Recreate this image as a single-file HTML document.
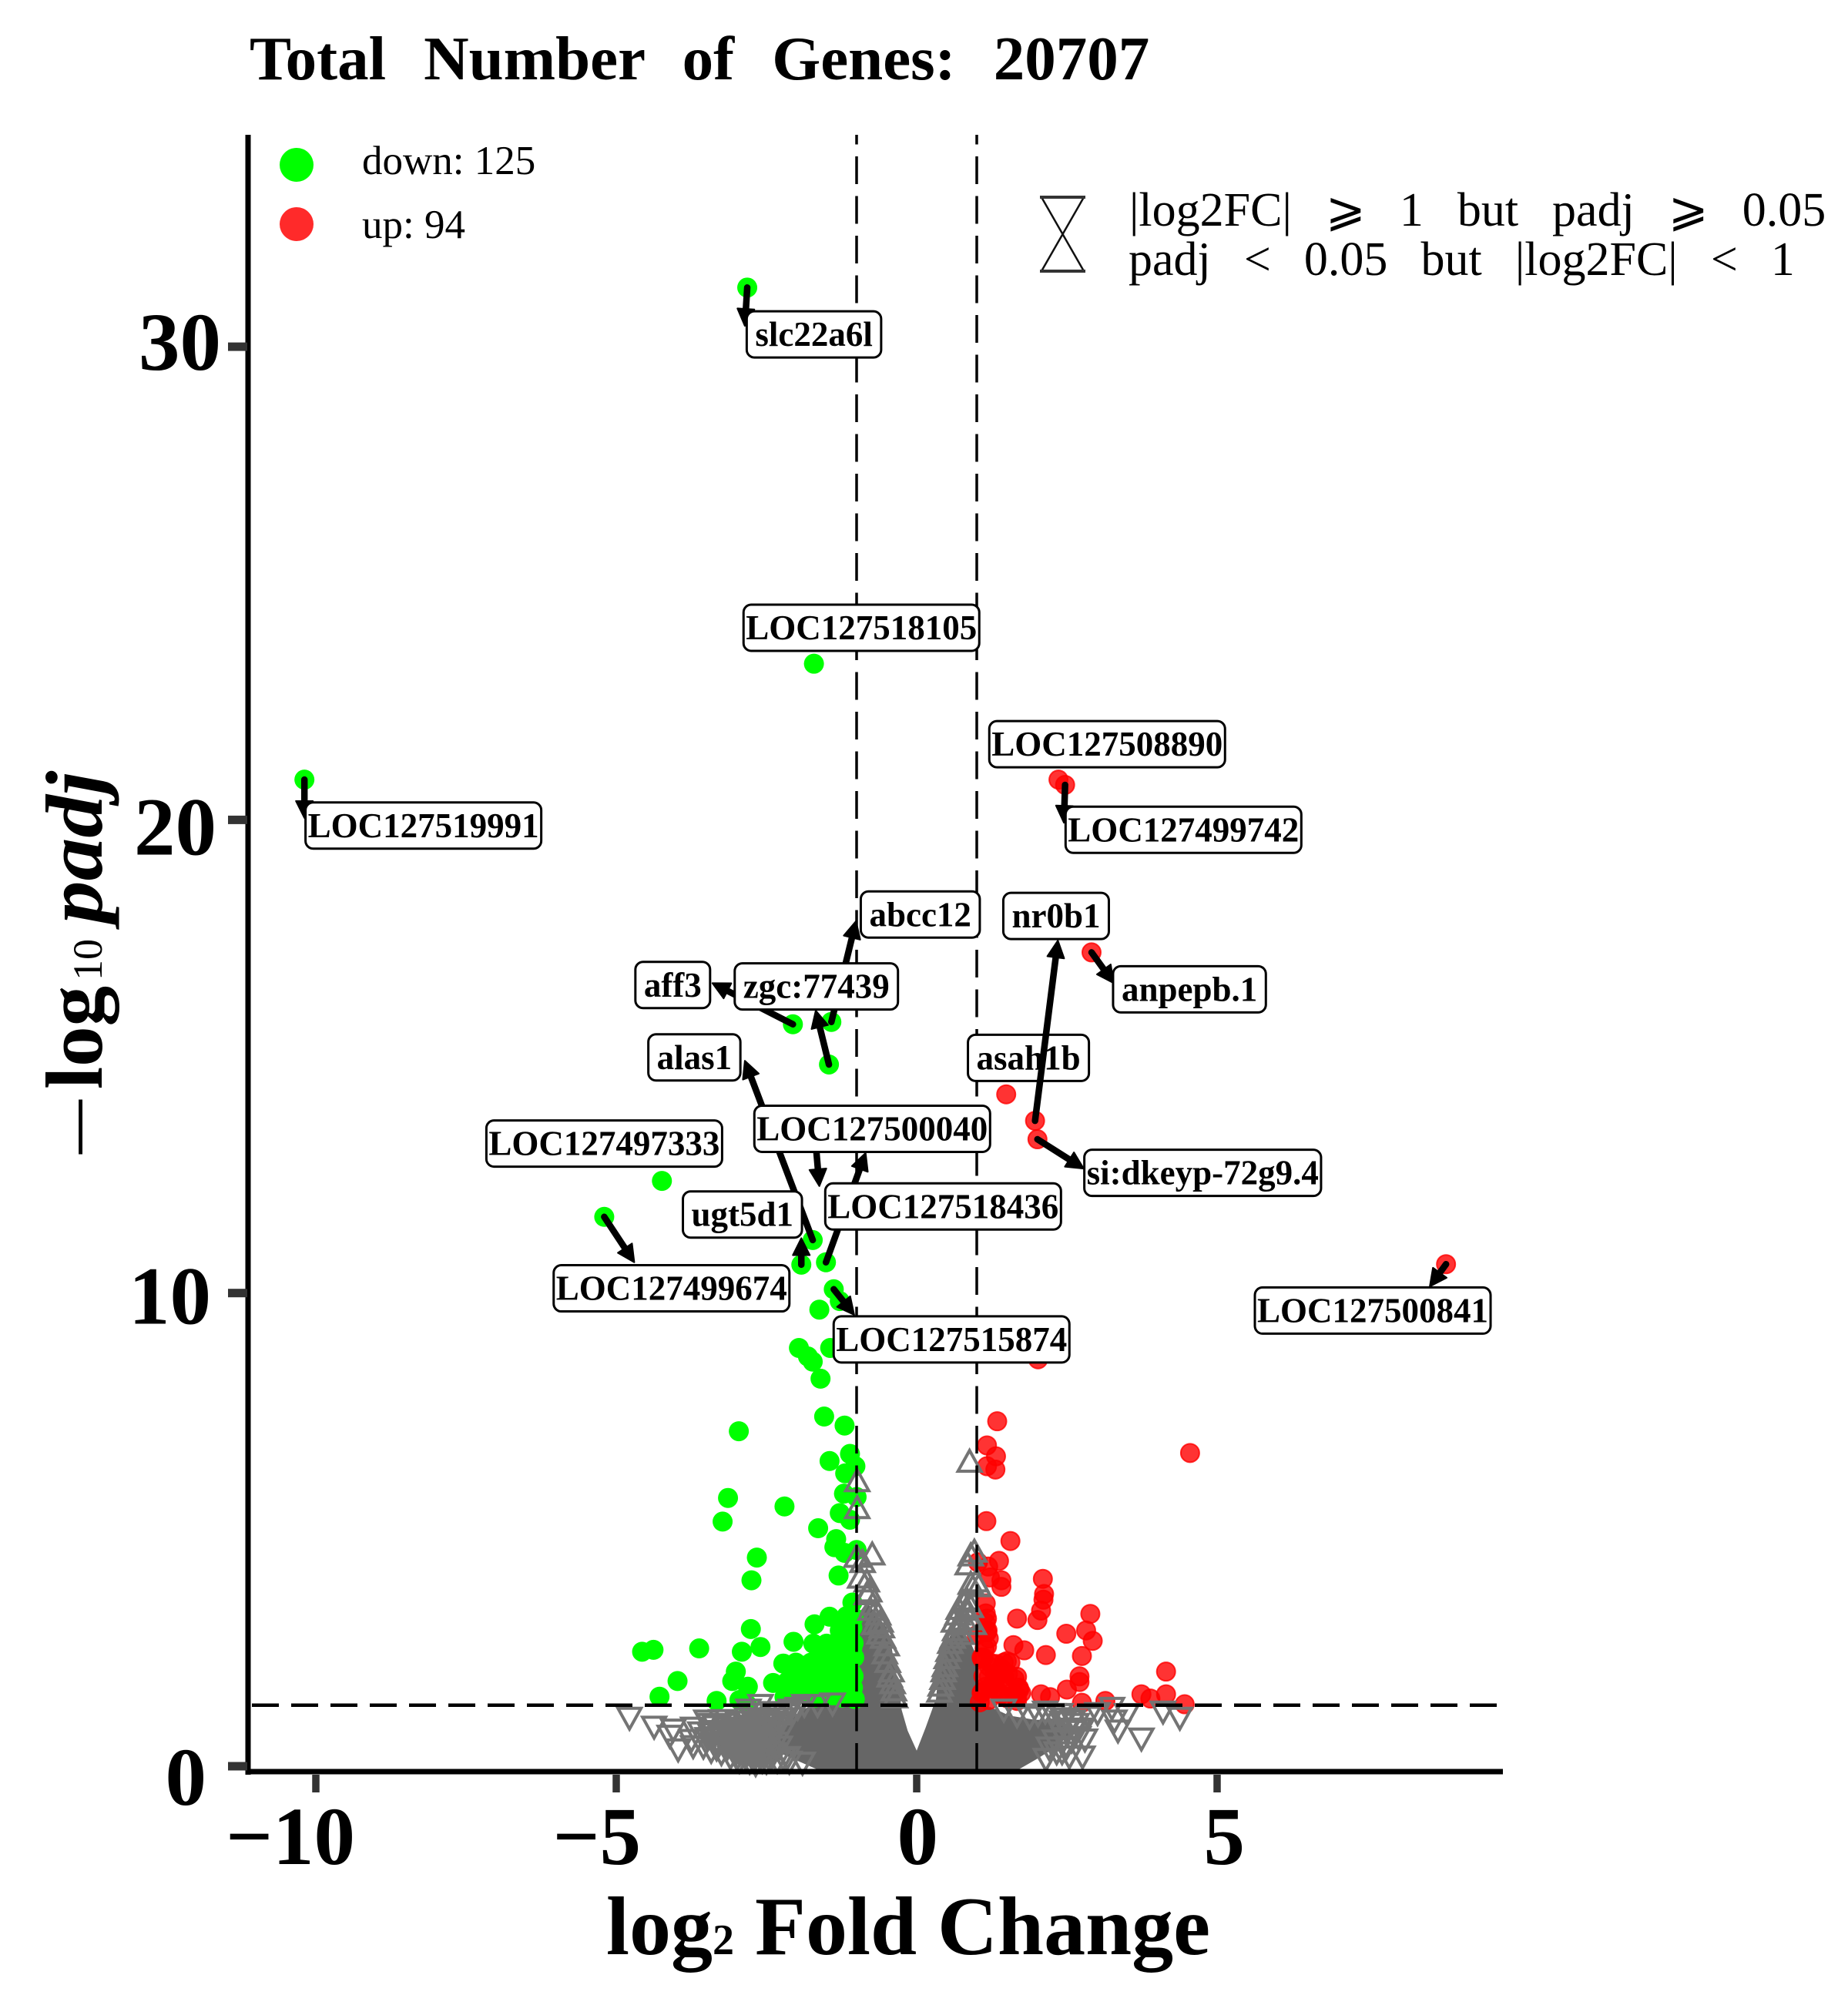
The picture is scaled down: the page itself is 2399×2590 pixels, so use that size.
<!DOCTYPE html>
<html lang="en">
<head>
<meta charset="utf-8">
<title>Volcano plot</title>
<style>
html,body{margin:0;padding:0;background:#fff}
svg{display:block}
text{font-family:"Liberation Serif","DejaVu Serif",serif;fill:#000}
</style>
</head>
<body>
<svg id="chart" xmlns="http://www.w3.org/2000/svg" width="2399" height="2590" viewBox="0 0 2399 2590">
<rect width="2399" height="2590" fill="#fff"/>
<text x="324" y="103" font-size="81" font-weight="bold" style="word-spacing:28.8px">Total Number of Genes: 20707</text>
<g id="density"></g>
<g id="downG"></g>
<g id="upG"></g>
<g id="grayUp"></g>
<g id="grayDown"></g>
<g id="refs"></g>
<g id="axes"></g>
<g id="annot"></g>
<g>
<text transform="translate(121,1498) rotate(-90)" font-size="70" font-weight="bold">—</text>
<text transform="translate(132,1414) rotate(-90)" font-size="105" font-weight="bold">log</text>
<text transform="translate(132,1273) rotate(-90)" font-size="54">10</text>
<text transform="translate(132,1199) rotate(-90)" font-size="105" font-weight="bold" font-style="italic" textLength="198" lengthAdjust="spacingAndGlyphs">padj</text>
</g>
<text x="787" y="2537" font-size="108" font-weight="bold">log<tspan font-size="56">2</tspan> Fold Change</text>
<g>
<circle cx="385" cy="214" r="22" fill="#00ff00"/>
<text x="470" y="226" font-size="53">down: 125</text>
<circle cx="385" cy="291" r="22" fill="#ff2a2a"/>
<text x="470" y="309" font-size="53">up: 94</text>
</g>
<g>
<path d="M1352 256H1407L1352 352H1407Z" fill="none" stroke="#111" stroke-width="2.5"/>
<path d="M1350 256H1409M1350 352H1409" stroke="#333" stroke-width="4"/>
<text x="1466" y="293" font-size="62" style="word-spacing:28.5px">|log2FC| ⩾ 1 but padj ⩾ 0.05</text>
<text x="1465" y="357" font-size="62" style="word-spacing:27.6px">padj &lt; 0.05 but |log2FC| &lt; 1</text>
</g>
</svg>
<script>
// ---- chart data ----
const xTicks = [-10, -5, 0, 5];
const yTicks = [0, 10, 20, 30];
const xTickLabels = ['−10', '−5', '0', '5'];
const yTickLabels = ['0', '10', '20', '30'];
const log2fcCut = 1;
const padjCut = 1.29;

const downPoints = [[-2.82,31.25],[-1.71,23.3],[-10.19,20.85],[-2.06,15.68],[-1.42,15.73],[-1.46,14.83],[-1.73,11.12],[-1.92,10.6],[-1.51,10.65],[-4.24,12.37],[-5.2,11.61],[-1.38,10.08],[-1.28,9.83],[-1.62,9.65],[-1.96,8.84],[-1.44,8.84],[-1.73,8.55],[-1.81,8.66],[-1.6,8.19],[-1.54,7.39],[-1.2,7.2],[-2.96,7.08],[-1.11,6.6],[-1.45,6.45],[-1.02,6.34],[-1.19,6.19],[-3.14,5.67],[-2.2,5.49],[-1.21,5.76],[-1,5.69],[-1.28,5.35],[-1.11,5.21],[-3.23,5.17],[-1.64,5.03],[-1.34,4.8],[-1.37,4.63],[-1.2,4.51],[-1,4.57],[-2.66,4.41],[-1.3,4.03],[-2.75,3.93],[-1.07,3.46],[-1.45,3.16],[-1.7,3],[-2.76,2.9],[-1.17,3.17],[-1.24,2.77],[-1.05,3.15],[-1.1,2.9],[-2.05,2.63],[-1.72,2.59],[-1.5,2.59],[-1.2,2.53],[-1.05,2.6],[-2.6,2.52],[-4.38,2.46],[-4.57,2.42],[-3.62,2.49],[-2.91,2.42],[-2.22,2.17],[-2.01,2.19],[-1.76,2.19],[-1.46,2.1],[-1.13,2.13],[-3.01,2],[-3.98,1.8],[-3.07,1.8],[-2.81,1.68],[-2.39,1.76],[-2.16,1.78],[-1.94,1.84],[-1.65,1.9],[-1.35,1.9],[-1.13,1.84],[-1.04,2.3],[-4.28,1.47],[-2.95,1.4],[-3.33,1.38],[-2.2,1.46],[-1.87,1.55],[-1.57,1.6],[-1.28,1.6],[-1.06,1.66],[-2.82,1.3],[-1.9,1.95],[-1.8,1.75],[-1.72,1.62],[-1.55,1.85],[-1.5,2],[-1.42,1.7],[-1.3,2.3],[-1.22,1.95],[-1.18,1.7],[-1.1,1.5],[-1.05,1.9],[-1.4,1.5],[-1.7,1.45],[-2,1.62],[-1.85,2.05],[-1.6,2.35],[-1.35,2.45],[-1.15,2.35],[-2.05,1.95],[-1.25,1.45],[-1.03,1.42],[-1.92,2.06],[-1.75,2.11],[-1.58,1.89],[-1.36,2],[-1.15,2.06],[-1.92,1.73],[-1.75,1.68],[-1.58,1.62],[-1.36,1.62],[-1.2,1.62],[-1.07,1.62],[-1.07,1.95],[-1.15,2.6],[-1.28,2.87],[-1.07,2.93],[-1.07,2.5],[-2.18,1.51]];

const upPoints = [[2.36,20.85],[2.47,20.74],[2.91,17.2],[1.49,14.2],[1.97,13.64],[2.01,13.25],[8.81,10.61],[2.02,8.6],[1.34,7.29],[4.55,6.62],[1.17,6.78],[1.32,6.55],[1.17,6.34],[1.31,6.27],[1.16,5.18],[1.56,4.76],[1.37,4.34],[1.02,4.31],[1.19,4.22],[1.22,3.99],[1.41,3.93],[1.41,3.79],[2.1,3.96],[2.12,3.64],[2.11,3.52],[2.07,3.29],[2.01,3.09],[1.15,3.44],[1.67,3.12],[2.89,3.22],[2.49,2.8],[2.82,2.87],[2.93,2.65],[2.75,2.33],[2.15,2.35],[1.61,2.56],[1.79,2.45],[4.15,2],[2.71,1.9],[2.71,1.78],[2.5,1.62],[2.07,1.52],[2.22,1.46],[2.75,1.34],[3.14,1.38],[3.74,1.52],[3.89,1.43],[4.15,1.52],[4.46,1.31],[1.17,3.12],[1.17,2.83],[1.17,2.53],[1.11,2.3],[1,2.77],[1.15,3.23],[1.22,2.19],[1.45,2.19],[1.56,2.19],[1.3,1.95],[1.52,1.95],[1.63,1.84],[1.7,1.66],[1.74,1.55],[1.22,1.66],[1.37,1.55],[1.52,1.43],[1.08,2.3],[1.11,1.9],[1.08,1.55],[1.67,1.46],[1.3,1.75],[1.45,1.8],[1.2,1.4],[1.05,1.35],[1.15,3.03],[1.18,2.87],[1.2,2.7],[1.13,2.49],[1.09,2.27],[1.2,2.11],[1.32,2.16],[1.5,2.22],[1.41,2.06],[1.2,1.89],[1.32,1.89],[1.45,1.89],[1.67,1.89],[1.71,1.62],[1.15,1.68],[1.32,1.62],[1.41,1.52],[1.62,1.52],[1.67,1.38],[1.09,1.57]];

const foldOnlyUp = [[0.88,6.43],[-0.99,6.02],[-0.99,5.45],[-0.74,4.47],[-1,4.42],[-0.9,4.31],[-0.94,3.98],[-0.83,3.9],[-0.79,3.69],[-0.83,3.63],[-0.73,3.41],[-0.77,3.3],[-0.64,3.2],[-0.58,2.93],[-0.56,2.71],[-0.53,2.38],[-0.45,1.89],[-0.38,1.6],[-0.7,3.0],[-0.62,2.8],[-0.5,2.55],[-0.48,2.2],[-0.42,2.0],[-0.4,1.75],[-0.36,1.45],[-0.68,3.3],[-0.6,3.05],[0.96,4.53],[0.9,4.45],[0.85,4.26],[0.99,3.9],[0.9,3.85],[1.03,3.8],[0.83,3.52],[0.77,3.47],[0.9,3.36],[0.68,3.2],[0.79,3.09],[0.64,2.87],[0.6,2.71],[0.75,2.79],[0.53,2.43],[0.47,2.11],[0.43,1.84],[0.38,1.57],[0.88,3.1],[0.95,3.0],[0.72,3.0],[0.62,3.05],[0.56,2.6],[0.5,2.28],[0.45,2.0],[0.4,1.7],[0.82,3.3],[0.7,3.32]];

const belowCutDown = [[-4.78,1.03],[-4.37,0.84],[-4.11,0.65],[-4.05,0.78],[-3.97,0.36],[-3.72,0.43],[-3.75,0.56],[-3.72,0.82],[-3.6,0.72],[-3.55,0.42],[-3.5,0.97],[-3.48,0.6],[-3.42,0.33],[-3.4,0.74],[-3.35,0.85],[-3.3,0.5],[-3.25,0.28],[-3.22,0.66],[-3.2,0.9],[-3.15,0.4],[-3.1,0.2],[-3.08,0.56],[-3.05,0.78],[-3,0.3],[-2.98,0.95],[-2.95,0.12],[-2.92,0.6],[-2.9,0.42],[-2.88,0.82],[-2.85,0.2],[-2.82,1.02],[-2.8,0.52],[-2.78,0.1],[-2.75,0.7],[-2.72,0.32],[-2.7,0.92],[-2.68,0.05],[-2.65,0.58],[-2.62,1.12],[-2.6,0.22],[-2.58,0.8],[-2.55,0.42],[-2.52,1],[-2.5,0.1],[-2.48,0.65],[-2.45,0.3],[-2.42,0.9],[-2.42,1.15],[-2.6,1.3],[-2.8,1.2],[-2.3,1.1],[-2.1,1.2],[-1.87,1.3],[-1.65,1.3],[-1.4,1.33],[-3.45,0.9],[-3.38,0.62],[-3.33,0.38],[-3.28,0.75],[-3.18,0.82],[-3.12,0.62],[-3.06,0.42],[-3.02,0.68],[-2.96,0.52],[-2.94,0.28],[-2.91,0.72],[-2.87,0.5],[-2.84,0.34],[-2.82,0.86],[-2.76,0.42],[-2.74,0.6],[-2.69,0.78],[-2.67,0.24],[-2.64,0.45],[-2.6,0.98],[-2.56,0.62],[-2.53,0.26],[-2.5,0.82],[-2.46,0.48],[-2.44,0.14],[-2.38,0.72],[-2.35,0.95],[-2.32,0.12],[-2.28,0.42],[-2.26,1.02],[-2.22,0.18],[-2.18,1.1],[-2.12,0.1],[-2.05,1.16],[-1.98,1.24],[-2.75,1.12],[-3.25,0.98],[-2.15,0.2],[-1.9,0.08],[-3.44,0.7],[-3.36,0.48],[-3.26,0.6],[-3.16,0.52],[-3.14,0.72],[-3.04,0.55],[-2.99,0.18],[-2.97,0.78],[-2.89,0.26],[-2.86,0.66],[-2.8,0.78],[-2.78,0.3],[-2.72,0.52],[-2.7,0.16],[-2.66,0.7],[-2.63,0.33],[-2.57,0.12],[-2.54,0.72],[-2.49,0.36],[-2.47,0.93],[-2.42,0.56],[-2.38,0.28],[-2.34,0.5],[-2.3,0.82],[-2.25,0.7],[3.74,0.59],[3.35,0.76],[3.29,0.97],[3.5,1.11],[4.1,1.16],[4.38,1.03],[3.25,1.24],[2.86,1.05],[3.01,1.13],[2.8,0.57],[2.69,0.62],[2.76,0.21],[2.54,0.21],[2.33,0.3],[2.15,0.16],[2.27,1.11],[1.88,1.05],[1.67,1.08],[2.14,1.16],[2.39,1.11],[2.6,0.97],[2.5,0.8],[2.45,0.6],[2.38,0.78],[2.3,0.55],[2.2,0.4],[2.62,0.75],[2.02,1.1],[1.45,1.2],[2.42,0.95],[2.58,0.55],[2.5,0.42],[2.42,0.3],[2.66,0.9],[2.7,0.8],[2.48,1.02]];

const denseCloudLfc = [-1.67,-2.26,-2.44,-2.09,-1.62,-1,-1,-0.98,-0.83,-0.5,-0.43,-0.37,-0.29,-0.25,-0.15,0,0.15,0.3,0.32,0.37,0.46,0.58,0.77,0.9,1,1.03,1.32,1.54,1.97,2.31,2.58,2.52,2.35,2.01,1.71];
const denseCloudPadj = [-0.06,0.27,0.54,1.03,1.4,1.4,2.5,3.2,3.47,2.93,2.6,2.17,1.62,1.19,0.75,0.33,0.82,1.35,1.4,2.06,2.49,2.82,2.87,2.6,2.33,1.35,1.2,1.07,0.98,0.98,0.86,0.65,0.43,0.16,-0.06];

const geneNames = ['slc22a6l','LOC127518105','LOC127508890','LOC127499742','LOC127519991','aff3','abcc12','zgc:77439','alas1','asah1b','LOC127497333','ugt5d1','LOC127500040','LOC127518436','LOC127499674','LOC127515874','si:dkeyp-72g9.4','anpepb.1','LOC127500841','nr0b1'];
const geneLfc = [-2.82,null,null,2.47,-10.19,-2.06,-1.42,-1.46,-1.73,null,null,-1.92,-1.51,-1.71,-5.2,-1.38,2.01,2.91,8.81,1.97];
const genePadj = [31.25,null,null,20.74,20.85,15.68,15.73,14.83,11.12,null,null,10.6,10.65,13.6,11.61,10.08,13.25,17.2,10.61,13.64];
const arrowLfc = [-2.86,null,null,2.45,-10.19,-3.4,-1.01,-1.68,-2.86,null,null,-1.92,-0.85,-1.62,-4.7,-1.04,2.78,3.28,8.54,2.35];
const arrowPadj = [30.44,null,null,19.94,20.04,16.55,17.86,15.97,14.91,null,null,11.16,12.96,12.26,10.65,9.54,12.63,16.55,10.14,17.45];
const labelLfc = [-1.71,-0.92,3.17,4.44,-8.21,-4.06,0.06,-1.67,-3.7,1.86,-5.2,-2.9,-0.74,0.44,-4.08,0.58,4.76,4.54,7.59,2.32];
const labelPadj = [30.26,24.06,21.6,19.79,19.88,16.51,18,16.48,14.98,14.97,13.16,11.66,13.47,11.83,10.1,9.02,12.54,16.42,9.63,17.97];

// ---- axis functions ----
const xScale = v => 1190 + v * 78;
const yScale = v => 2293 - v * 61.43;
const NS = 'http://www.w3.org/2000/svg';
function el(parent, tag, attrs) {
  const n = document.createElementNS(NS, tag);
  for (const k in attrs) n.setAttribute(k, attrs[k]);
  parent.appendChild(n);
  return n;
}
const byId = id => document.getElementById(id);

// dense cloud of overlapping non-significant genes
const cloudPts = denseCloudLfc.map((v, i) => xScale(v) + ',' + yScale(denseCloudPadj[i])).join(' ');
const cloud = el(byId('density'), 'polygon', {points: cloudPts, fill: '#666'});



// triangles
foldOnlyUp.forEach(p => {
  const cx = xScale(p[0]), cy = yScale(p[1]);
  const t = el(byId('grayUp'), 'polygon', {points: `${cx},${cy-15} ${cx+15},${cy+12} ${cx-15},${cy+12}`, fill: 'none', stroke: '#747474', 'stroke-width': 4});
  
  
});
belowCutDown.forEach(p => {
  const cx = xScale(p[0]), cy = yScale(p[1]);
  const t = el(byId('grayDown'), 'polygon', {points: `${cx-15},${cy-12} ${cx+15},${cy-12} ${cx},${cy+15}`, fill: 'none', stroke: '#747474', 'stroke-width': 4});
  
  
});

// significant genes
downPoints.forEach(p => {
  const c = el(byId('downG'), 'circle', {cx: xScale(p[0]), cy: yScale(p[1]), r: 13, fill: '#00ff00'});
  
  
});
upPoints.forEach(p => {
  const c = el(byId('upG'), 'circle', {cx: xScale(p[0]), cy: yScale(p[1]), r: 12, fill: 'rgba(255,0,0,.8)', stroke: 'rgba(255,0,0,.8)', 'stroke-width': 2});
  
  
});

// threshold lines
const refG = byId('refs');
[-log2fcCut, log2fcCut].forEach(v => {
  const l = el(refG, 'line', {x1: xScale(v), x2: xScale(v), y1: 175, y2: 2298, stroke: '#000', 'stroke-width': 3.5, 'stroke-dasharray': '36 15.5', 'stroke-dashoffset': -28});
  
  
});
const hLine = el(refG, 'line', {x1: 323, x2: 1951, y1: yScale(padjCut), y2: yScale(padjCut), stroke: '#000', 'stroke-width': 4.5, 'stroke-dasharray': '35 16', 'stroke-dashoffset': -4});



// axes
const axG = byId('axes');
const yAxis = el(axG, 'line', {x1: 322, x2: 322, y1: 175, y2: 2304, stroke: '#000', 'stroke-width': 7});


const xAxis = el(axG, 'line', {x1: 319, x2: 1951, y1: 2300, y2: 2300, stroke: '#000', 'stroke-width': 7});


const xLabelShift = {'−10': 51, '−5': 32, '0': 28, '5': 36};
xTicks.forEach((v, i) => {
  const t = el(axG, 'line', {x1: xScale(v), x2: xScale(v), y1: 2304, y2: 2327, stroke: '#333', 'stroke-width': 9.5});
  
  
  const s = el(axG, 'text', {x: xScale(v) + xLabelShift[xTickLabels[i]], y: 2420, 'text-anchor': 'end', 'font-size': 107, 'font-weight': 'bold'});
  s.textContent = xTickLabels[i];
  
  
});
const yLabelDy = {'0': 50, '10': 40, '20': 45, '30': 30};
const yLabelX = {'0': 268, '10': 274, '20': 281, '30': 287};
yTicks.forEach((v, i) => {
  const t = el(axG, 'rect', {x: 296, y: yScale(v) - 5.5, width: 25, height: 11, fill: '#333'});
  
  
  const s = el(axG, 'text', {x: yLabelX[yTickLabels[i]], y: yScale(v) + yLabelDy[yTickLabels[i]], 'text-anchor': 'end', 'font-size': 107, 'font-weight': 'bold'});
  s.textContent = yTickLabels[i];
  
  
});

// gene annotations
const annotG = byId('annot');
function drawArrow(i) {
  if (arrowLfc[i] === null) return;
  const x1 = xScale(geneLfc[i]), y1 = yScale(genePadj[i]);
  const x2 = xScale(arrowLfc[i]), y2 = yScale(arrowPadj[i]);
  const a = Math.atan2(y2 - y1, x2 - x1);
  const bx = x2 - 22 * Math.cos(a), by = y2 - 22 * Math.sin(a);
  const line = el(annotG, 'line', {x1: x1, y1: y1, x2: bx, y2: by, stroke: '#000', 'stroke-width': 8.5, 'stroke-linecap': 'round'});
  
  
  const nx = -Math.sin(a) * 11, ny = Math.cos(a) * 11;
  const head = el(annotG, 'polygon', {points: `${x2},${y2} ${bx+nx},${by+ny} ${bx-nx},${by-ny}`, fill: '#000', stroke: '#000', 'stroke-width': 2, 'stroke-linejoin': 'round'});
  
  
}
function drawLabel(i) {
  const cx = xScale(labelLfc[i]), cy = yScale(labelPadj[i]);
  const box = el(annotG, 'rect', {rx: 10, ry: 10, fill: '#fff', stroke: '#000', 'stroke-width': 3});
  
  
  const txt = el(annotG, 'text', {x: cx, y: cy + 15, 'text-anchor': 'middle', 'font-size': 45, 'font-weight': 'bold'});
  txt.textContent = geneNames[i];
  
  
  const w = txt.getComputedTextLength();
  const pad = w > 250 ? 3 : 11;
  box.setAttribute('x', cx - w / 2 - pad);
  box.setAttribute('width', w + 2 * pad);
  box.setAttribute('y', cy - 30);
  box.setAttribute('height', 60);
}
const lastGene = geneNames.indexOf('nr0b1');
geneNames.forEach((g, i) => { if (i !== lastGene) drawArrow(i); });
geneNames.forEach((g, i) => { if (i !== lastGene) drawLabel(i); });
drawArrow(lastGene);
drawLabel(lastGene);
</script>
</body>
</html>
